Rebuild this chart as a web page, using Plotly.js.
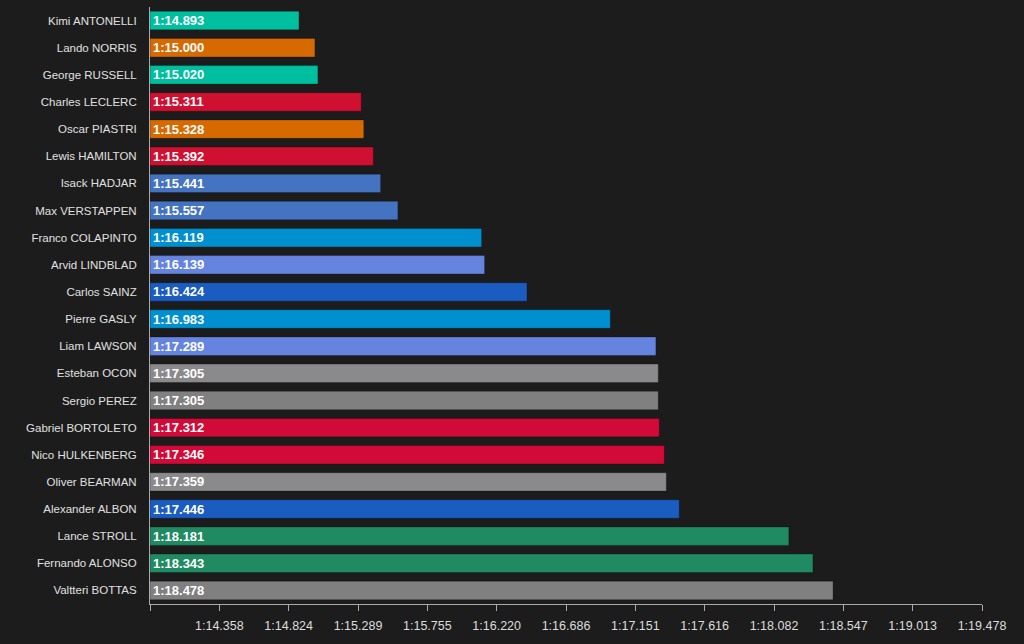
<!DOCTYPE html>
<html>
<head>
<meta charset="utf-8">
<script src="https://cdn.plot.ly/plotly-3.0.1.min.js"></script>
<style>html,body{margin:0;padding:0;background:#1c1c1c;}#chart{width:1024px;height:644px;}</style>
</head>
<body>
<div id="chart"></div>
<script>
const drivers = ["Kimi ANTONELLI","Lando NORRIS","George RUSSELL","Charles LECLERC","Oscar PIASTRI","Lewis HAMILTON","Isack HADJAR","Max VERSTAPPEN","Franco COLAPINTO","Arvid LINDBLAD","Carlos SAINZ","Pierre GASLY","Liam LAWSON","Esteban OCON","Sergio PEREZ","Gabriel BORTOLETO","Nico HULKENBERG","Oliver BEARMAN","Alexander ALBON","Lance STROLL","Fernando ALONSO","Valtteri BOTTAS"];
const lapTimes = [74.893,75.000,75.020,75.311,75.328,75.392,75.441,75.557,76.119,76.139,76.424,76.983,77.289,77.305,77.305,77.312,77.346,77.359,77.446,78.181,78.343,78.478];
const teamColors = ["#00bf9f","#d66a00","#00bf9f","#d01030","#d66a00","#d01030","#4473c2","#4473c2","#008fcf","#6484e0","#1a5cc0","#008fcf","#6484e0","#8a8a8c","#808080","#d20a38","#d20a38","#8a8a8c","#1a5cc0","#208a62","#208a62","#808080"];

function fmt(t){
  const ms = Math.round(t*1000 + 1e-6);
  const m = Math.floor(ms/60000);
  const rest = ms - m*60000;
  const s = Math.floor(rest/1000);
  const f = rest - s*1000;
  return m + ":" + String(s).padStart(2,"0") + "." + String(f).padStart(3,"0");
}
const lo = Math.min(...lapTimes) - 1;
const hi = Math.max(...lapTimes) + 1;
const nTicks = 12;
const tickVals = [], tickText = [];
for(let i=0;i<=nTicks;i++){
  const v = lo + (hi-lo)*i/nTicks;
  tickVals.push(v);
  tickText.push(i===0 ? "" : fmt(v));
}

const trace = {
  type: "bar",
  orientation: "h",
  y: drivers,
  x: lapTimes.map(t => t - lo),
  base: lo,
  text: lapTimes.map(fmt),
  textposition: "inside",
  insidetextanchor: "start",
  textangle: 0,
  constraintext: "none",
  textfont: {family: "Liberation Sans, Arial, sans-serif", size: 13, color: "#ffffff", weight: "bold"},
  marker: {color: teamColors, line: {color: "rgba(0,0,0,0.25)", width: 1}},
  hoverinfo: "skip",
  cliponaxis: false
};

const layout = {
  width: 1024, height: 644,
  paper_bgcolor: "#1c1c1c",
  plot_bgcolor: "#1c1c1c",
  margin: {l: 150, r: 42, t: 7, b: 40},
  bargap: 0.32,
  showlegend: false,
  font: {family: "Liberation Sans, Arial, sans-serif", color: "#e0e0e0", size: 11.5},
  xaxis: {
    range: [lo, hi],
    tickmode: "array",
    tickvals: tickVals,
    ticktext: tickText,
    ticks: "outside",
    ticklen: 6,
    tickcolor: "#aaaaaa",
    showline: true,
    linecolor: "#aaaaaa",
    linewidth: 1,
    showgrid: false,
    zeroline: false,
    ticklabelstandoff: 4,
    tickfont: {size: 12.5, color: "#dddddd"}
  },
  yaxis: {
    autorange: "reversed",
    showline: true,
    linecolor: "#aaaaaa",
    linewidth: 1,
    showgrid: false,
    zeroline: false,
    ticks: "",
    ticklabelstandoff: 10,
    tickfont: {size: 11.5, color: "#e0e0e0"}
  }
};

Plotly.newPlot("chart", [trace], layout, {displayModeBar: false, staticPlot: true});
</script>
</body>
</html>
